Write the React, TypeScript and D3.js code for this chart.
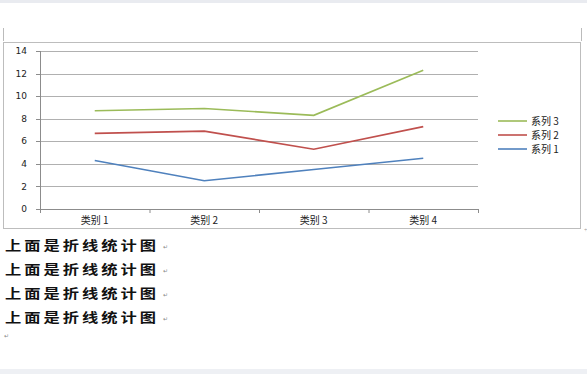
import React from "react";
import * as d3 from "d3";

const categories = ["类别 1", "类别 2", "类别 3", "类别 4"];
const series1 = [4.3, 2.5, 3.5, 4.5];
const series2 = [6.7, 6.9, 5.3, 7.3];
const series3 = [8.7, 8.9, 8.3, 12.3];
const seriesNames = ["系列 1", "系列 2", "系列 3"];
const seriesColors = ["#4f81bd", "#c0504d", "#9bbb59"];
const yTicks = [0, 2, 4, 6, 8, 10, 12, 14];
const paragraphs = ["上面是折线统计图", "上面是折线统计图", "上面是折线统计图", "上面是折线统计图"];

const W = 587;
const H = 374;
const plot = { left: 40, right: 478, top: 51, bottom: 209 };

export default function App() {
  const x = d3.scaleBand<string>().domain(categories).range([plot.left, plot.right]).padding(0);
  const y = d3.scaleLinear().domain([0, 14]).range([plot.bottom, plot.top]);
  const allSeries = [series1, series2, series3];
  const line = d3
    .line<number>()
    .x((_, i) => (x(categories[i]) as number) + x.bandwidth() / 2)
    .y((d) => y(d));
  const boundaries = [...categories.map((c) => x(c) as number), plot.right];
  const legendOrder = [2, 1, 0];
  const lineYs = [245, 269, 293, 317];

  return (
    <div style={{ position: "absolute", left: 0, top: 0, width: W, height: H, background: "#fff" }}>
      <svg width={W} height={H} style={{ display: "block" }}>
        <rect x={0} y={0} width={W} height={H} fill="#ffffff" />
        <rect x={0} y={0} width={W} height={3} fill="#e9ebf0" />
        <rect x={0} y={369} width={W} height={5} fill="#eef0f4" />
        {/* document margin marks */}
        <line x1={3.5} y1={28} x2={3.5} y2={41} stroke="#bbb" />
        <line x1={581.5} y1={28} x2={581.5} y2={41} stroke="#bbb" />
        {/* chart frame */}
        <rect x={3.5} y={42.5} width={577} height={186} fill="#fff" stroke="#bdbdbd" />
        <text x={584} y={232} fontSize={6} fill="#999">+</text>
        {/* gridlines */}
        {yTicks.map((t) => (
          <g key={t}>
            <line
              x1={plot.left}
              x2={plot.right}
              y1={Math.round(y(t)) + 0.5}
              y2={Math.round(y(t)) + 0.5}
              stroke={t === 0 ? "#8c8c8c" : "#b0b0b0"}
            />
            <line x1={plot.left - 4} x2={plot.left} y1={Math.round(y(t)) + 0.5} y2={Math.round(y(t)) + 0.5} stroke="#8c8c8c" />
            <text
              x={27}
              y={y(t)}
              dy="0.35em"
              textAnchor="end"
              fontSize={9}
              fontFamily="'DejaVu Sans', sans-serif"
              fill="#222"
            >
              {t}
            </text>
          </g>
        ))}
        <line x1={plot.left + 0.5} x2={plot.left + 0.5} y1={plot.top} y2={plot.bottom} stroke="#8c8c8c" />
        {boundaries.map((b, i) => (
          <line key={i} x1={b + 0.5} x2={b + 0.5} y1={plot.bottom} y2={plot.bottom + 4} stroke="#8c8c8c" />
        ))}
        {categories.map((c) => (
          <text
            key={c}
            x={(x(c) as number) + x.bandwidth() / 2}
            y={220}
            dy="0.35em"
            textAnchor="middle"
            fontSize={10}
            fontFamily="'Noto Sans CJK SC', sans-serif"
            fill="#222"
          >
            {c}
          </text>
        ))}
        {allSeries.map((s, i) => (
          <path key={i} d={line(s) || ""} fill="none" stroke={seriesColors[i]} strokeWidth={1.6} />
        ))}
        {legendOrder.map((si, k) => {
          const ly = 121 + k * 14;
          return (
            <g key={si}>
              <line x1={498} x2={527} y1={ly} y2={ly} stroke={seriesColors[si]} strokeWidth={1.6} />
              <text
                x={531}
                y={ly}
                dy="0.35em"
                fontSize={10}
                fontFamily="'Noto Sans CJK SC', sans-serif"
                fill="#222"
              >
                {seriesNames[si]}
              </text>
            </g>
          );
        })}
        {paragraphs.map((p, i) => (
          <g key={i}>
            <g transform={`translate(5, ${lineYs[i]}) scale(1.25, 1)`}>
              <text
                x={0}
                y={0}
                dy="0.38em"
                fontSize={13}
                fontWeight={700}
                letterSpacing={2.4}
                fontFamily="'Noto Sans CJK SC', serif"
                fill="#111"
              >
                {p}
              </text>
            </g>
            <text x={163} y={lineYs[i] + 4} fontSize={6} fill="#888" fontFamily="'DejaVu Sans', sans-serif">
              ↵
            </text>
          </g>
        ))}
        <text x={4} y={338} fontSize={6} fill="#888" fontFamily="'DejaVu Sans', sans-serif">
          ↵
        </text>
      </svg>
    </div>
  );
}
